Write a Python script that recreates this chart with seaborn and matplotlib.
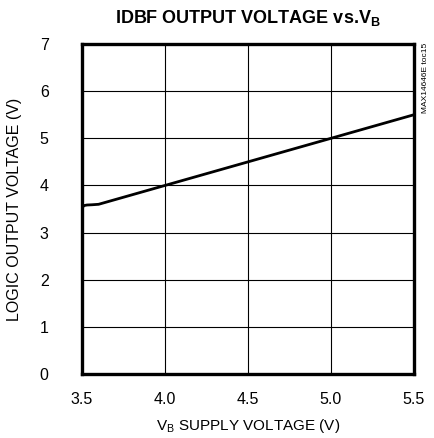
import matplotlib
matplotlib.use("Agg")
import matplotlib.pyplot as plt
import seaborn as sns
import pandas as pd

# ======= datos =======
supply_voltage = [3.5, 3.505, 3.515, 3.53, 3.56, 3.6, 4.0, 4.5, 5.0, 5.5]
output_voltage = [3.5, 3.55, 3.575, 3.585, 3.59, 3.6, 4.0, 4.5, 5.0, 5.5]
x_ticks = [3.5, 4.0, 4.5, 5.0, 5.5]
y_ticks = [0, 1, 2, 3, 4, 5, 6, 7]

df = pd.DataFrame({"vb": supply_voltage, "vout": output_voltage})

sns.set_style("white")
plt.rcParams['font.family'] = ['Liberation Sans', 'DejaVu Sans']
plt.rcParams['text.color'] = 'black'
plt.rcParams['axes.labelcolor'] = 'black'
plt.rcParams['xtick.color'] = 'black'
plt.rcParams['ytick.color'] = 'black'

fig = plt.figure(figsize=(4.35, 4.38), dpi=100)
ax = fig.add_axes([0.1885, 0.1461, 0.7632, 0.7534])

sns.lineplot(data=df, x="vb", y="vout", ax=ax, color="black", linewidth=2, sort=False)

ax.set_xlim(3.5, 5.5)
ax.set_ylim(0, 7)
ax.set_xticks(x_ticks)
ax.set_xticklabels([f"{t:.1f}" for t in x_ticks])
ax.set_yticks(y_ticks)
ax.grid(True, color="black", linewidth=0.8)
for s in ax.spines.values():
    s.set_color("black")
    s.set_linewidth(2.4)
ax.tick_params(axis="x", length=0, pad=13, labelsize=11.5)
ax.tick_params(axis="y", length=0, pad=24, labelsize=11.5)

ax.set_xlabel(r"V$_\mathregular{B}$ SUPPLY VOLTAGE (V)", fontsize=11, labelpad=7)
ax.set_ylabel("LOGIC OUTPUT VOLTAGE (V)", fontsize=11.5, labelpad=13)
ax.set_title(r"IDBF OUTPUT VOLTAGE vs.V$_\mathregular{B}$", fontsize=13, fontweight="bold", pad=15)

fig.text(0.978, 0.902, "MAX14646E toc15", rotation=90, fontsize=6, ha="center", va="top")

plt.savefig("out.png", dpi=100)
